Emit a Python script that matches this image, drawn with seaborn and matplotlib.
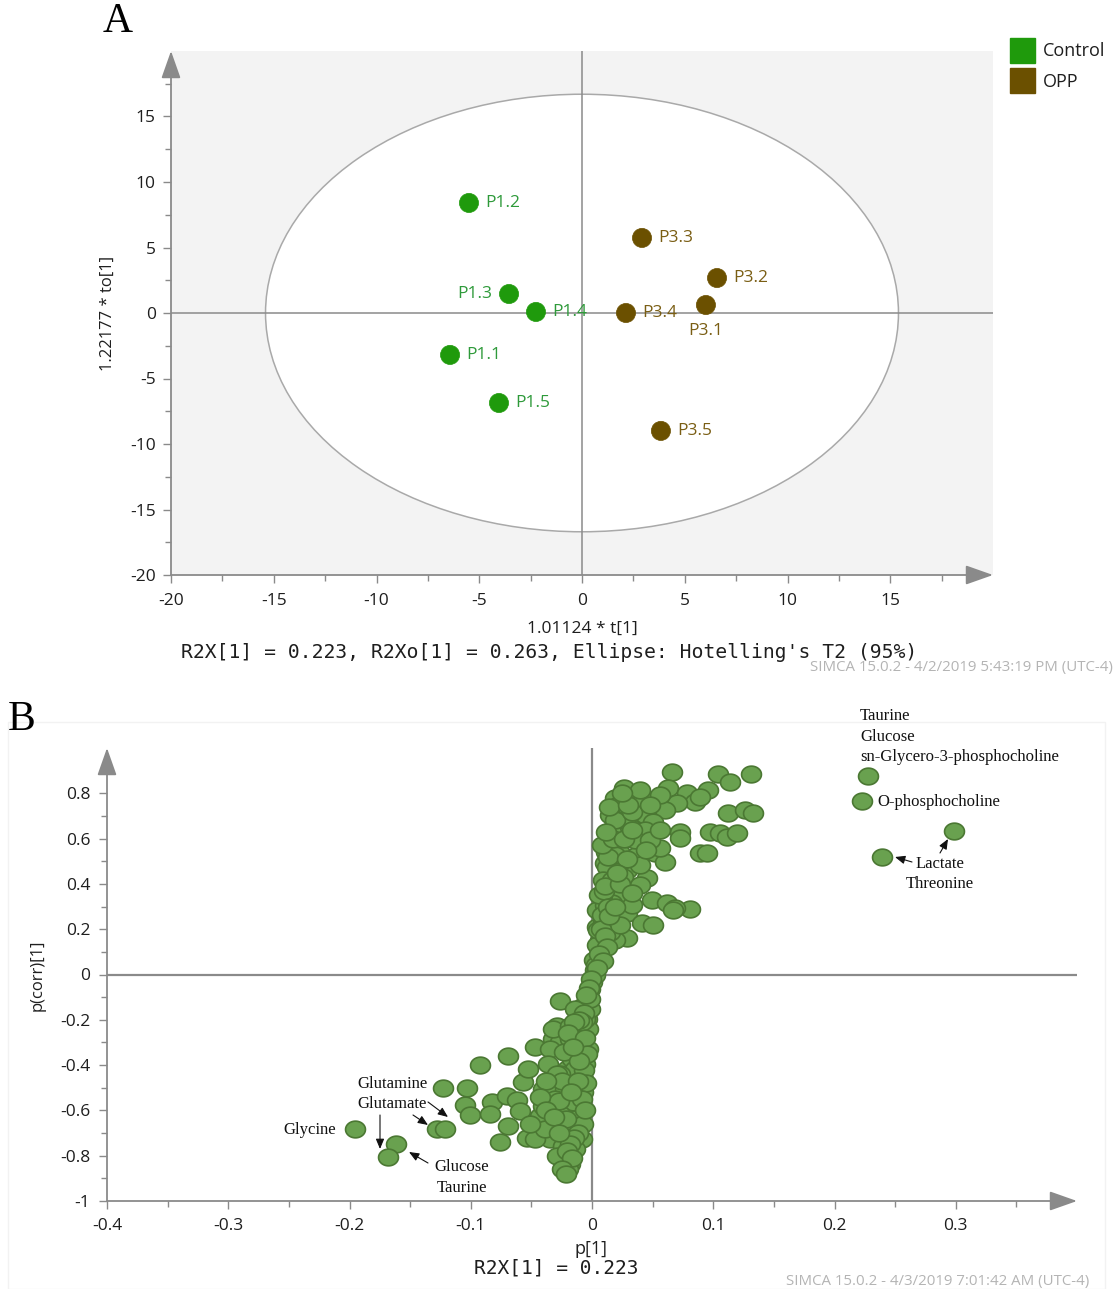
import numpy as np
import pandas as pd
import matplotlib
matplotlib.use("Agg")
import matplotlib.pyplot as plt
import seaborn as sns
from matplotlib.patches import Ellipse, Patch, Rectangle, FancyArrowPatch
from matplotlib.path import Path
from matplotlib.ticker import FixedLocator, FuncFormatter

# ---------------- Panel A: OPLS-DA score plot ----------------
sample_ids = ["P1.1", "P1.2", "P1.3", "P1.4", "P1.5",
              "P3.1", "P3.2", "P3.3", "P3.4", "P3.5"]
sample_group = ["Control"] * 5 + ["OPP"] * 5
t1_scaled = [-6.42, -5.50, -3.55, -2.24, -4.04, 6.03, 6.57, 2.92, 2.14, 3.84]
to1_scaled = [-3.20, 8.40, 1.45, 0.08, -6.87, 0.61, 2.67, 5.73, 0.00, -9.00]
t2_radius_x = 15.4   # Hotelling's T2 (95%) half-widths
t2_radius_y = 16.7

group_names = ["Control", "OPP"]
group_colors = {"Control": "#1f9a0c", "OPP": "#6b5000"}
label_colors = {"Control": "#2e9a3a", "OPP": "#7a5e14"}

# ---------------- Panel B: S-plot ----------------
p1_loading = [
    # positive branch
    0.0660, 0.1039, 0.1138, 0.1311, 0.0264, 0.0190, 0.0214, 0.0338, 0.0420, 0.0627,
    0.0783, 0.0849, 0.0701, 0.0602, 0.0956, 0.1121, 0.1261, 0.1327, 0.0437, 0.0503,
    0.0173, 0.0313, 0.0437, 0.0725, 0.0725, 0.0973, 0.1055, 0.1113, 0.1195, 0.0206,
    0.0231, 0.0371, 0.0519, 0.0602, 0.0890, 0.0948, 0.0107, 0.0173, 0.0289, 0.0453,
    0.0148, 0.0231, 0.0165, 0.0495, 0.0618, 0.0808, 0.0684, 0.0289, 0.0412, 0.0503,
    0.0124, 0.0041, 0.0041, 0.0256, 0.0124, 0.0668, 0.0289, 0.0190, 0.0091, 0.0066,
    0.0049, 0.0025, 0.0000, -0.0033, -0.0058, 0.0561, 0.0396, 0.0561, 0.0890, 0.0148,
    0.0354, 0.0272, 0.0091, 0.0082, 0.0107, 0.0396, 0.0330, 0.0066, 0.0041, 0.0148,
    0.0231, 0.0115, 0.0478, 0.0561, 0.0016, 0.0033, 0.0082, 0.0049, 0.0165, 0.0231,
    0.0190, 0.0396, 0.0190, 0.0330, 0.0478,
    0.0058, 0.0099, 0.0132, 0.0074, 0.0107, 0.0124, 0.0058, 0.0091, 0.0025, 0.0041,
    0.0140, 0.0190, 0.0107, 0.0132, 0.0082, 0.0173, 0.0115, 0.0264, 0.0140, 0.0297,
    0.0247, 0.0330, 0.0231, 0.0330, 0.0289, 0.0445, 0.0206,
    # far right
    0.2275, 0.2226, 0.2984, 0.2391,
    # negative branch
    -0.1954, -0.1616, -0.1682, -0.1278, -0.1212, -0.1228, -0.1031, -0.1047, -0.1006, -0.0923,
    -0.0824, -0.0841, -0.0758, -0.0692, -0.0701, -0.0618, -0.0594, -0.0692, -0.0569, -0.0470,
    -0.0528, -0.0453, -0.0536, -0.0404, -0.0346, -0.0206, -0.0181, -0.0346, -0.0264, -0.0181,
    -0.0198, -0.0223, -0.0322, -0.0206, -0.0099, -0.0074, -0.0289, -0.0124, -0.0074, -0.0099,
    -0.0470, -0.0322, -0.0157, -0.0322, -0.0239, -0.0289, -0.0264, -0.0124, -0.0041, -0.0346,
    -0.0099, -0.0074, -0.0429, -0.0404, -0.0264, -0.0322, -0.0181, -0.0041, -0.0115, -0.0058,
    -0.0140, -0.0082, -0.0140, -0.0387, -0.0511, -0.0016, -0.0033, -0.0074, -0.0223, -0.0264,
    -0.0165, -0.0363, -0.0033, -0.0016, -0.0016, -0.0058, -0.0099, -0.0140, -0.0181, -0.0140,
    -0.0264, -0.0305,
    -0.0008, -0.0025, -0.0049, -0.0066, -0.0082, -0.0107, -0.0148, -0.0198, -0.0231, -0.0058,
    -0.0041, -0.0066, -0.0049, -0.0082, -0.0058, -0.0115, -0.0148, -0.0181, -0.0206, -0.0165,
    -0.0214, -0.0272, -0.0289, -0.0247, -0.0115, -0.0173, -0.0107, -0.0157, -0.0379, -0.0429,
    -0.0379, -0.0313, -0.0272, -0.0247, -0.0214,
]
p_corr = [
    0.894, 0.885, 0.850, 0.885, 0.824, 0.780, 0.749, 0.771, 0.771, 0.824,
    0.802, 0.762, 0.758, 0.727, 0.815, 0.714, 0.727, 0.714, 0.705, 0.674,
    0.648, 0.652, 0.639, 0.630, 0.604, 0.630, 0.626, 0.608, 0.626, 0.581,
    0.537, 0.529, 0.537, 0.498, 0.537, 0.537, 0.493, 0.463, 0.463, 0.427,
    0.388, 0.344, 0.317, 0.330, 0.317, 0.291, 0.295, 0.273, 0.229, 0.220,
    0.242, 0.286, 0.211, 0.432, 0.476, 0.286, 0.163, 0.154, 0.229, 0.154,
    0.079, 0.022, -0.035, -0.097, -0.141, 0.559, 0.815, 0.793, 0.784, 0.705,
    0.595, 0.683, 0.419, 0.352, 0.308, 0.396, 0.308, 0.110, 0.132, 0.189,
    0.220, 0.542, 0.595, 0.639, 0.066, 0.044, 0.264, 0.198, 0.419, 0.498,
    0.529, 0.485, 0.683, 0.718, 0.749,
    0.350, 0.370, 0.300, 0.200, 0.170, 0.120, 0.090, 0.060, 0.000, 0.030,
    0.260, 0.300, 0.390, 0.520, 0.570, 0.600, 0.630, 0.600, 0.740, 0.750,
    0.800, 0.640, 0.400, 0.360, 0.510, 0.550, 0.450,
    0.877, 0.767, 0.634, 0.520,
    -0.683, -0.749, -0.806, -0.683, -0.683, -0.502, -0.502, -0.577, -0.621, -0.401,
    -0.564, -0.617, -0.740, -0.361, -0.537, -0.555, -0.604, -0.670, -0.476, -0.322,
    -0.419, -0.652, -0.722, -0.507, -0.564, -0.419, -0.581, -0.727, -0.802, -0.837,
    -0.859, -0.670, -0.286, -0.330, -0.256, -0.141, -0.229, -0.449, -0.520, -0.595,
    -0.727, -0.507, -0.564, -0.670, -0.758, -0.802, -0.300, -0.286, -0.123, -0.330,
    -0.361, -0.463, -0.626, -0.581, -0.119, -0.242, -0.229, -0.198, -0.256, -0.396,
    -0.639, -0.727, -0.771, -0.683, -0.661, -0.066, -0.330, -0.661, -0.507, -0.617,
    -0.374, -0.396, -0.242, -0.154, -0.110, -0.198, -0.176, -0.154, -0.286, -0.419,
    -0.441, -0.551,
    -0.020, -0.060, -0.090, -0.170, -0.210, -0.200, -0.210, -0.260, -0.340, -0.280,
    -0.350, -0.420, -0.480, -0.550, -0.600, -0.700, -0.720, -0.750, -0.780, -0.810,
    -0.640, -0.560, -0.440, -0.470, -0.470, -0.520, -0.380, -0.320, -0.470, -0.540,
    -0.600, -0.630, -0.700, -0.860, -0.880,
]

W, H = 1117, 1289
sns.set_style("white")
plt.rcParams["font.family"] = ["Open Sans", "DejaVu Sans"]
plt.rcParams["axes.unicode_minus"] = False

fig = plt.figure(figsize=(W / 100, H / 100), dpi=100)


def fpos(x, y):
    """pixel position (from top-left) -> figure fraction"""
    return x / W, 1 - y / H


def tick_text(v, pos):
    v = round(v, 2)
    return "0" if abs(v) < 1e-9 else f"{v:g}"


AXIS_GREY = "#8a8a8a"
TEXT = "#1e1e1e"

# ======================= Panel A =======================
axA = fig.add_axes([171 / W, 1 - 575 / H, (993 - 171) / W, (575 - 51) / H])
axA.set_facecolor("#f3f3f3")
axA.set_xlim(-20, 20)
axA.set_ylim(-20, 20)
axA.add_patch(Ellipse((0, 0), 2 * t2_radius_x, 2 * t2_radius_y,
                      facecolor="white", edgecolor="#a9a9a9", lw=1.1, zorder=0.5))
axA.axhline(0, color=AXIS_GREY, lw=1.1, zorder=1)
axA.axvline(0, color=AXIS_GREY, lw=1.1, zorder=1)

scores = pd.DataFrame({"sample": sample_ids, "group": sample_group,
                       "t": t1_scaled, "to": to1_scaled})
sns.scatterplot(data=scores, x="t", y="to", hue="group", hue_order=group_names,
                palette=group_colors, s=190, edgecolor="face", linewidth=0.5,
                legend=False, ax=axA, zorder=3)

label_offsets = {"P1.3": (-12, 0, "right", "center"),
                 "P3.1": (0, -19, "center", "center")}
for sid, grp, tx, ty in zip(sample_ids, sample_group, t1_scaled, to1_scaled):
    dx, dy, ha, va = label_offsets.get(sid, (12, 0, "left", "center"))
    axA.annotate(sid, (tx, ty), xytext=(dx, dy), textcoords="offset points",
                 ha=ha, va=va, fontsize=12.5, color=label_colors[grp], zorder=4)

for sp in axA.spines.values():
    sp.set_visible(False)
arrow_kw = dict(arrowstyle="-|>,head_length=0.85,head_width=0.3", color=AXIS_GREY,
                lw=1.3, shrinkA=0, shrinkB=0, mutation_scale=20)
axA.annotate("", xy=(0, 1), xytext=(0, 0), xycoords="axes fraction",
             arrowprops=arrow_kw, annotation_clip=False)
axA.annotate("", xy=(1, 0), xytext=(0, 0), xycoords="axes fraction",
             arrowprops=arrow_kw, annotation_clip=False)

axA.xaxis.set_major_locator(FixedLocator(np.arange(-20, 16, 5)))
axA.xaxis.set_minor_locator(FixedLocator(np.arange(-17.5, 19, 5)))
axA.yaxis.set_major_locator(FixedLocator(np.arange(-20, 16, 5)))
axA.yaxis.set_minor_locator(FixedLocator(np.arange(-17.5, 19, 5)))
axA.xaxis.set_major_formatter(FuncFormatter(tick_text))
axA.yaxis.set_major_formatter(FuncFormatter(tick_text))
axA.tick_params(which="major", length=6, width=1, color=AXIS_GREY,
                labelsize=12.5, labelcolor=TEXT, pad=5, direction="out",
                bottom=True, left=True)
axA.tick_params(which="minor", length=4, width=1, color=AXIS_GREY,
                direction="out", bottom=True, left=True)
axA.tick_params(axis="x", which="major", pad=7)
axA.set_xlabel("")
axA.set_ylabel("")

fig.text(*fpos(118, 22), "A", family="Liberation Serif", fontsize=30,
         ha="center", va="center", color="black")
fig.text(*fpos(108, 313), "1.22177 * to[1]", rotation=90, fontsize=12,
         ha="center", va="center", color=TEXT)
fig.text(*fpos(582, 629), "1.01124 * t[1]", fontsize=12.5,
         ha="center", va="center", color=TEXT)
fig.text(*fpos(549, 652), "R2X[1] = 0.223, R2Xo[1] = 0.263, Ellipse: Hotelling's T2 (95%)",
         family="DejaVu Sans Mono", fontsize=14.1, ha="center", va="center", color=TEXT)
fig.text(*fpos(1113, 667), "SIMCA 15.0.2 - 4/2/2019 5:43:19 PM (UTC-4)",
         fontsize=10.8, ha="right", va="center", color="#b4b4b4")

fig.legend(handles=[Patch(facecolor=group_colors[g], edgecolor=group_colors[g], label=g)
                    for g in group_names],
           loc="upper left", bbox_to_anchor=fpos(1010, 38), frameon=False,
           fontsize=13, handlelength=1.38, handleheight=1.75, handletextpad=0.45,
           labelspacing=0.3, borderpad=0, borderaxespad=0, labelcolor=TEXT)

# ======================= Panel B =======================
fig.add_artist(Rectangle(fpos(8, 1289), (1105 - 8) / W, (1289 - 722) / H,
                         transform=fig.transFigure, fill=False,
                         edgecolor="#f2f2f2", lw=1))

axB = fig.add_axes([107 / W, 1 - 1201 / H, (1077 - 107) / W, (1201 - 748) / H])
axB.set_xlim(-0.4, 0.4)
axB.set_ylim(-1, 1)
axB.axhline(0, color=AXIS_GREY, lw=1.6, zorder=1)
axB.axvline(0, color=AXIS_GREY, lw=1.6, zorder=1)

theta = np.linspace(0, 2 * np.pi, 72)
oval = Path(np.column_stack([np.cos(theta), 0.84 * np.sin(theta)]), closed=True)

splot = pd.DataFrame({"p1": p1_loading, "pcorr": p_corr})
sns.scatterplot(data=splot, x="p1", y="pcorr", marker=oval, s=205,
                color="#69a14f", edgecolor="#4b7833", linewidth=1.2,
                legend=False, ax=axB, zorder=3)

for sp in axB.spines.values():
    sp.set_visible(False)
axB.annotate("", xy=(0, 1), xytext=(0, 0), xycoords="axes fraction",
             arrowprops=arrow_kw, annotation_clip=False)
axB.annotate("", xy=(1, 0), xytext=(0, 0), xycoords="axes fraction",
             arrowprops=arrow_kw, annotation_clip=False)

axB.xaxis.set_major_locator(FixedLocator(np.round(np.arange(-0.4, 0.31, 0.1), 2)))
axB.xaxis.set_minor_locator(FixedLocator(np.round(np.arange(-0.35, 0.36, 0.1), 2)))
axB.yaxis.set_major_locator(FixedLocator(np.round(np.arange(-1.0, 0.81, 0.2), 2)))
axB.yaxis.set_minor_locator(FixedLocator(np.round(np.arange(-0.9, 0.91, 0.2), 2)))
axB.xaxis.set_major_formatter(FuncFormatter(tick_text))
axB.yaxis.set_major_formatter(FuncFormatter(tick_text))
axB.tick_params(which="major", length=6, width=1, color=AXIS_GREY,
                labelsize=12.5, labelcolor=TEXT, pad=6, direction="out",
                bottom=True, left=True)
axB.tick_params(which="minor", length=4, width=1, color=AXIS_GREY,
                direction="out", bottom=True, left=True)
axB.set_xlabel("")
axB.set_ylabel("")

fig.text(*fpos(22, 720), "B", family="Liberation Serif", fontsize=30,
         ha="center", va="center", color="black")
fig.text(*fpos(38, 975), "p(corr)[1]", rotation=90, fontsize=12,
         ha="center", va="center", color=TEXT)
fig.text(*fpos(591, 1249), "p[1]", fontsize=13, ha="center", va="center", color=TEXT)
fig.text(*fpos(556, 1268), "R2X[1] = 0.223", family="DejaVu Sans Mono", fontsize=14,
         ha="center", va="center", color=TEXT)
fig.text(*fpos(1089, 1281), "SIMCA 15.0.2 - 4/3/2019 7:01:42 AM (UTC-4)",
         fontsize=10.8, ha="right", va="center", color="#b4b4b4")

# metabolite annotations
serif = dict(family="Liberation Serif", fontsize=12, color="#111111", va="center")
notes = [
    ("Taurine", 860, 716, "left"),
    ("Glucose", 860, 737, "left"),
    ("sn-Glycero-3-phosphocholine", 860, 757, "left"),
    ("O-phosphocholine", 877, 802, "left"),
    ("Lactate", 940, 864, "center"),
    ("Threonine", 940, 884, "center"),
    ("Glycine", 336, 1130, "right"),
    ("Glutamine", 392, 1084, "center"),
    ("Glutamate", 392, 1104, "center"),
    ("Glucose", 462, 1167, "center"),
    ("Taurine", 462, 1188, "center"),
]
for txt, x, y, ha in notes:
    fig.text(*fpos(x, y), txt, ha=ha, **serif)

pointer_kw = dict(arrowstyle="-|>,head_length=0.6,head_width=0.25", color="#111111",
                  lw=0.8, shrinkA=0, shrinkB=0, mutation_scale=10)
pointers = [((912, 862), (895, 857)),
            ((940, 853), (948, 839)),
            ((428, 1102), (448, 1117)),
            ((413, 1115), (428, 1125)),
            ((380, 1115), (380, 1149)),
            ((428, 1163), (409, 1152))]
for start, end in pointers:
    fig.add_artist(FancyArrowPatch(fpos(*start), fpos(*end),
                                   transform=fig.transFigure, **pointer_kw))

fig.savefig("out.png", dpi=100)
